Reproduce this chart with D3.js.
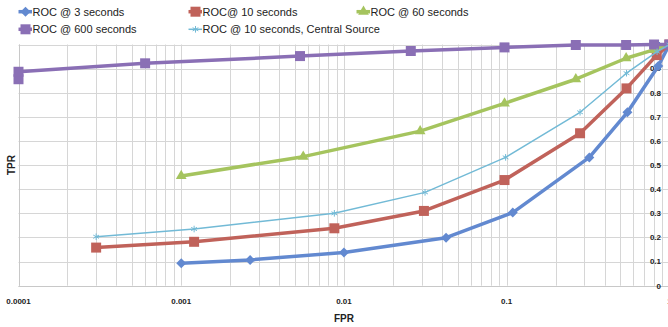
<!DOCTYPE html>
<html><head><meta charset="utf-8">
<script src="https://cdn.jsdelivr.net/npm/d3@7"></script>
<style>html,body{margin:0;padding:0;background:#fff;overflow:hidden}</style>
</head><body><svg id="c" width="668" height="327"></svg>
<script>
const seriesNames = ["ROC @ 3 seconds","ROC@ 10 seconds","ROC @ 60 seconds","ROC @ 600 seconds","ROC @ 10 seconds, Central Source"];
const fpr3 =   [0.001, 0.00265, 0.01, 0.0424, 0.109, 0.322, 0.552, 0.855, 1];
const tpr3 =   [0.093, 0.107, 0.138, 0.199, 0.303, 0.532, 0.719, 0.911, 1];
const fpr10 =  [0.0003, 0.0012, 0.00873, 0.031, 0.097, 0.2825, 0.545, 0.836, 1];
const tpr10 =  [0.158, 0.182, 0.238, 0.31, 0.438, 0.632, 0.818, 0.956, 1];
const fpr60 =  [0.001, 0.00562, 0.0294, 0.097, 0.266, 0.542, 0.8, 1];
const tpr60 =  [0.455, 0.535, 0.641, 0.756, 0.856, 0.943, 0.978, 1];
const fpr600 = [0.0001, 0.0001, 0.0006, 0.00537, 0.02575, 0.097, 0.266, 0.542, 0.805, 1];
const tpr600 = [0.856, 0.887, 0.922, 0.952, 0.973, 0.988, 0.998, 0.998, 1.0, 1];
const fprCS =  [0.0003, 0.0012, 0.00873, 0.0315, 0.0985, 0.2825, 0.545, 0.84, 1];
const tprCS =  [0.203, 0.235, 0.300, 0.387, 0.532, 0.719, 0.881, 0.97, 1];
const xTickValues = [0.0001, 0.001, 0.01, 0.1, 1];
const xTickLabels = ["0.0001", "0.001", "0.01", "0.1", "1"];
const yTickValues = [0, 0.1, 0.2, 0.3, 0.4, 0.5, 0.6, 0.7, 0.8, 0.9, 1];
const yTickLabels = ["0", "0.1", "0.2", "0.3", "0.4", "0.5", "0.6", "0.7", "0.8", "0.9", "1"];

const styles = [
  {color:"#6289d0", width:3.5, sym:"diamond", size:50},
  {color:"#c0625a", width:3.5, sym:"square", size:100},
  {color:"#a5c45e", width:3.5, sym:"triangle", size:50},
  {color:"#8a6fb5", width:3.5, sym:"square", size:100},
  {color:"#72bad6", width:1.5, sym:"asterisk", size:30}
];
const data = [
  d3.zip(fpr3, tpr3), d3.zip(fpr10, tpr10), d3.zip(fpr60, tpr60), d3.zip(fpr600, tpr600), d3.zip(fprCS, tprCS)
];

const svg = d3.select("#c");
const x = d3.scaleLog().domain([0.0001, 1]).range([18.5, 669.4]);
const y = d3.scaleLinear().domain([0, 1]).range([285.7, 44.5]);

const grid = svg.append("g");
grid.selectAll("line.v").data(x.ticks()).join("line")
  .attr("x1", d => Math.round(x(d)) + 0.5).attr("x2", d => Math.round(x(d)) + 0.5)
  .attr("y1", y(1)).attr("y2", y(0))
  .attr("stroke", "#d6d6d6").attr("stroke-width", 1);
grid.selectAll("line.h").data(yTickValues).join("line")
  .attr("x1", x(0.0001)).attr("x2", 668)
  .attr("y1", d => Math.round(y(d)) + 0.5).attr("y2", d => Math.round(y(d)) + 0.5)
  .attr("stroke", "#d6d6d6").attr("stroke-width", 1);
svg.append("line").attr("x1", Math.round(x(0.0001)) + 0.5).attr("x2", Math.round(x(0.0001)) + 0.5)
  .attr("y1", y(1)).attr("y2", y(0)).attr("stroke", "#c8c8c8");
svg.append("line").attr("x1", x(0.0001)).attr("x2", 668)
  .attr("y1", Math.round(y(0)) + 0.5).attr("y2", Math.round(y(0)) + 0.5).attr("stroke", "#c8c8c8");

// x tick labels
svg.append("g").selectAll("text").data(xTickValues).join("text")
  .attr("x", d => x(d)).attr("y", 303.5).attr("text-anchor", "middle")
  .attr("font-family", "Liberation Sans, Arial, sans-serif").attr("font-weight", "bold")
  .attr("font-size", 8).attr("fill", "#222")
  .text((d, i) => xTickLabels[i]);
// y tick labels
svg.append("g").selectAll("text").data(yTickValues).join("text")
  .attr("x", 661).attr("y", d => y(d)).attr("dy", "0.35em").attr("text-anchor", "end")
  .attr("font-family", "Liberation Sans, Arial, sans-serif").attr("font-weight", "bold")
  .attr("font-size", 8).attr("fill", "#222")
  .text((d, i) => yTickLabels[i]);

svg.append("text").attr("x", (x(0.0001) + x(1)) / 2).attr("y", 321.5).attr("text-anchor", "middle")
  .attr("font-family", "Liberation Sans, Arial, sans-serif").attr("font-weight", "bold")
  .attr("font-size", 10).attr("fill", "#222").text("FPR");
svg.append("text").attr("transform", `translate(15,${(y(0) + y(1)) / 2}) rotate(-90)`)
  .attr("text-anchor", "middle")
  .attr("font-family", "Liberation Sans, Arial, sans-serif").attr("font-weight", "bold")
  .attr("font-size", 10).attr("fill", "#222").text("TPR");

function symPath(s) {
  const t = {diamond: d3.symbolSquare, square: d3.symbolSquare, triangle: d3.symbolTriangle, asterisk: d3.symbolAsterisk}[s.sym];
  return d3.symbol(t, s.size)();
}
function drawMarker(g, s, px, py) {
  const p = g.append("path").attr("d", symPath(s));
  if (s.sym === "diamond") p.attr("transform", `translate(${px},${py}) rotate(45)`);
  else p.attr("transform", `translate(${px},${py})`);
  if (s.sym === "asterisk") p.attr("fill", "none").attr("stroke", s.color).attr("stroke-width", 1);
  else p.attr("fill", s.color);
}

const line = d3.line().x(d => x(d[0])).y(d => y(d[1]));
data.forEach((ser, i) => {
  const s = styles[i];
  const g = svg.append("g");
  g.append("path").datum(ser).attr("d", line).attr("fill", "none")
    .attr("stroke", s.color).attr("stroke-width", s.width).attr("stroke-linejoin", "round");
  ser.forEach(d => drawMarker(g, s, x(d[0]), y(d[1])));
});

// legend
const legPos = [[18.5, 11.7], [188.5, 11.7], [356.5, 11.7], [18.5, 29.3], [188.5, 29.3]];
seriesNames.forEach((name, i) => {
  const s = styles[i];
  const [lx, ly] = legPos[i];
  const g = svg.append("g");
  g.append("line").attr("x1", lx).attr("x2", lx + 13.5).attr("y1", ly).attr("y2", ly)
    .attr("stroke", s.color).attr("stroke-width", s.width);
  drawMarker(g, s, lx + 7, ly);
  g.append("text").attr("x", lx + 14).attr("y", ly).attr("dy", "0.35em")
    .attr("font-family", "Liberation Sans Narrow, Arial Narrow, sans-serif")
    .attr("font-size", 11).attr("fill", "#222").text(name);
});
</script></body></html>
